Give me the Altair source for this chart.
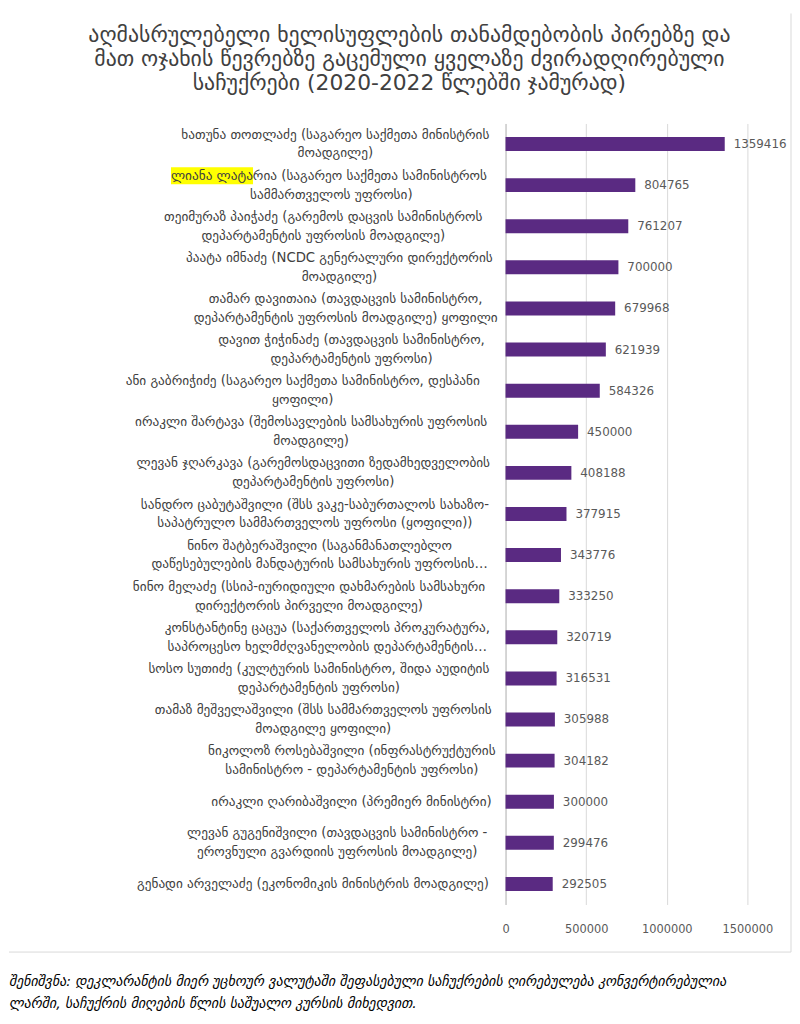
import altair as alt
import pandas as pd

title_lines = [
    "აღმასრულებელი ხელისუფლების თანამდებობის პირებზე და",
    "მათ ოჯახის წევრებზე გაცემული ყველაზე ძვირადღირებული",
    "საჩუქრები (2020-2022 წლებში ჯამურად)",
]

names = [
    "ხათუნა თოთლაძე (საგარეო საქმეთა მინისტრის|მოადგილე)",
    "ლიანა ლატარია (საგარეო საქმეთა სამინისტროს|სამმართველოს უფროსი)",
    "თეიმურაზ პაიჭაძე (გარემოს დაცვის სამინისტროს|დეპარტამენტის უფროსის მოადგილე)",
    "პაატა იმნაძე (NCDC გენერალური დირექტორის|მოადგილე)",
    "თამარ დავითაია (თავდაცვის სამინისტრო,|დეპარტამენტის უფროსის მოადგილე) ყოფილი",
    "დავით ჭიჭინაძე (თავდაცვის სამინისტრო,|დეპარტამენტის უფროსი)",
    "ანი გაბრიჭიძე (საგარეო საქმეთა სამინისტრო, დესპანი|ყოფილი)",
    "ირაკლი შარტავა (შემოსავლების სამსახურის უფროსის|მოადგილე)",
    "ლევან ჯღარკავა (გარემოსდაცვითი ზედამხედველობის|დეპარტამენტის უფროსი)",
    "სანდრო ცაბუტაშვილი (შსს ვაკე-საბურთალოს სახაზო-|საპატრულო სამმართველოს უფროსი (ყოფილი))",
    "ნინო შატბერაშვილი (საგანმანათლებლო|დაწესებულების მანდატურის სამსახურის უფროსის…",
    "ნინო მელაძე (სსიპ-იურიდიული დახმარების სამსახური|დირექტორის პირველი მოადგილე)",
    "კონსტანტინე ცაცუა (საქართველოს პროკურატურა,|საპროცესო ხელმძღვანელობის დეპარტამენტის…",
    "სოსო სუთიძე (კულტურის სამინისტრო, შიდა აუდიტის|დეპარტამენტის უფროსი)",
    "თამაზ მეშველაშვილი (შსს სამმართველოს უფროსის|მოადგილე ყოფილი)",
    "ნიკოლოზ როსებაშვილი (ინფრასტრუქტურის|სამინისტრო - დეპარტამენტის უფროსი)",
    "ირაკლი ღარიბაშვილი (პრემიერ მინისტრი)",
    "ლევან გუგენიშვილი (თავდაცვის სამინისტრო -|ეროვნული გვარდიის უფროსის მოადგილე)",
    "გენადი არველაძე (ეკონომიკის მინისტრის მოადგილე)",
]

values = [1359416, 804765, 761207, 700000, 679968, 621939, 584326, 450000,
          408188, 377915, 343776, 333250, 320719, 316531, 305988, 304182,
          300000, 299476, 292505]

highlighted = "ლიანა ლატა"

x_ticks = [0, 500000, 1000000, 1500000]

footnote = [
    "შენიშვნა: დეკლარანტის მიერ უცხოურ ვალუტაში შეფასებული საჩუქრების ღირებულება კონვერტირებულია",
    "ლარში, საჩუქრის მიღების წლის საშუალო კურსის მიხედვით.",
]

df = pd.DataFrame({"name": names, "value": values})

FONT = "DejaVu Sans"
W, H = 244, 788
LABEL_FS = 13.4
CW = 8.15         # approx. advance of a Georgian letter at LABEL_FS
NW = 4.4          # approx. advance of space / punctuation at LABEL_FS
LABEL_GAP = 14    # gap between label block and the axis line
LINE_H = 19
HL_PAD = 5        # extra width so the highlight covers the last glyph


def wexpr(e):
    narrow = "+".join(f"(split({e}, '{c}').length - 1)" for c in [" ", "(", ")", ",", "-"])
    return f"({CW} * length({e}) - {CW - NW} * ({narrow}))"


y_enc = alt.Y(
    "name:N",
    sort=None,
    scale=alt.Scale(paddingInner=0.66, paddingOuter=0.33),
    axis=alt.Axis(
        title=None,
        labels=False,
        ticks=False,
        domainColor="#bfbfbf",
        minExtent=501,
        maxExtent=501,
    ),
)
y_plain = alt.Y("name:N", sort=None)

x_enc = alt.X(
    "value:Q",
    scale=alt.Scale(domain=[0, 1500000], nice=False),
    axis=alt.Axis(
        title=None,
        values=x_ticks,
        format="d",
        labelFont=FONT,
        labelFontSize=11.5,
        labelColor="#595959",
        labelPadding=19,
        labelFlush=False,
        ticks=False,
        domain=False,
        gridColor="#d9d9d9",
    ),
)

base = alt.Chart(df)

bars = base.mark_bar(color="#5a2a82").encode(x=x_enc, y=y_enc)

values_txt = base.mark_text(
    align="left", baseline="middle", dx=9, font=FONT, fontSize=12, color="#595959"
).encode(x="value:Q", y=y_plain, text=alt.Text("value:Q", format="d"))

# category labels: each block right-aligned next to the axis, lines centred within the block
label_base = base.transform_calculate(
    lines="split(datum.name, '|')"
).transform_calculate(
    nl="datum.lines.length",
    l1="datum.lines[0]",
    l2="datum.lines.length > 1 ? datum.lines[1] : ''",
    hl=f"indexof(datum.name, '{highlighted}') == 0",
).transform_calculate(
    w=f"max({wexpr('datum.l1')}, {wexpr('datum.l2')})"
).transform_calculate(
    cx=f"-{LABEL_GAP} - datum.w / 2",
    left=f"-{LABEL_GAP} - datum.w",
)

style = dict(baseline="middle", lineBreak="|", lineHeight=LINE_H,
             font=FONT, fontSize=LABEL_FS, color="#404040")

labels_two = label_base.transform_filter("datum.nl > 1 && !datum.hl").mark_text(
    align="center", dy=-LINE_H / 2, **style
).encode(x=alt.X("cx:Q", scale=None), y=y_plain, text="name:N")

labels_one = label_base.transform_filter("datum.nl == 1").mark_text(
    align="center", **style
).encode(x=alt.X("cx:Q", scale=None), y=y_plain, text="name:N")

highlight = label_base.transform_filter("datum.hl").transform_calculate(
    right=f"datum.left + {wexpr(repr(highlighted))} + {HL_PAD}"
).mark_bar(color="#ffff00", size=17, yOffset=-LINE_H / 2).encode(
    x=alt.X("left:Q", scale=None), x2="right:Q", y=y_plain
)

hl_line1 = label_base.transform_filter("datum.hl").mark_text(
    align="left", dy=-LINE_H / 2, **style
).encode(x=alt.X("left:Q", scale=None), y=y_plain, text="l1:N")

hl_line2 = label_base.transform_filter("datum.hl").mark_text(
    align="center", dy=LINE_H / 2, **style
).encode(x=alt.X("cx:Q", scale=None), y=y_plain, text="l2:N")

one = pd.DataFrame({"k": [0]})

title = alt.Chart(pd.DataFrame({"t": ["|".join(title_lines)]})).mark_text(
    align="center", baseline="middle", lineBreak="|", lineHeight=24,
    font=FONT, fontSize=22, color="#404040"
).encode(x=alt.value(-97), y=alt.value(-89), text="t:N")

note = alt.Chart(pd.DataFrame({"t": ["|".join(footnote)]})).mark_text(
    align="left", baseline="middle", lineBreak="|", font=FONT, fontStyle="italic",
    fontSize=14, lineHeight=22, color="#000000"
).encode(x=alt.value(-501), y=alt.value(866), text="t:N")

frame_right = alt.Chart(one).mark_rule(color="#d9d9d9").encode(
    x=alt.value(288), y=alt.value(-111), y2=alt.value(836)
)
frame_bottom = alt.Chart(one).mark_rule(color="#d9d9d9").encode(
    x=alt.value(-501), x2=alt.value(288), y=alt.value(836)
)

chart = alt.layer(
    frame_right, frame_bottom, bars, values_txt, highlight,
    labels_two, labels_one, hl_line1, hl_line2, title, note
).properties(
    width=W,
    height=H,
    padding={"left": 0, "top": 0, "right": 0, "bottom": 0},
).configure_view(stroke=None)

chart.save("out.html", embed_options={"renderer": "svg", "actions": False})
